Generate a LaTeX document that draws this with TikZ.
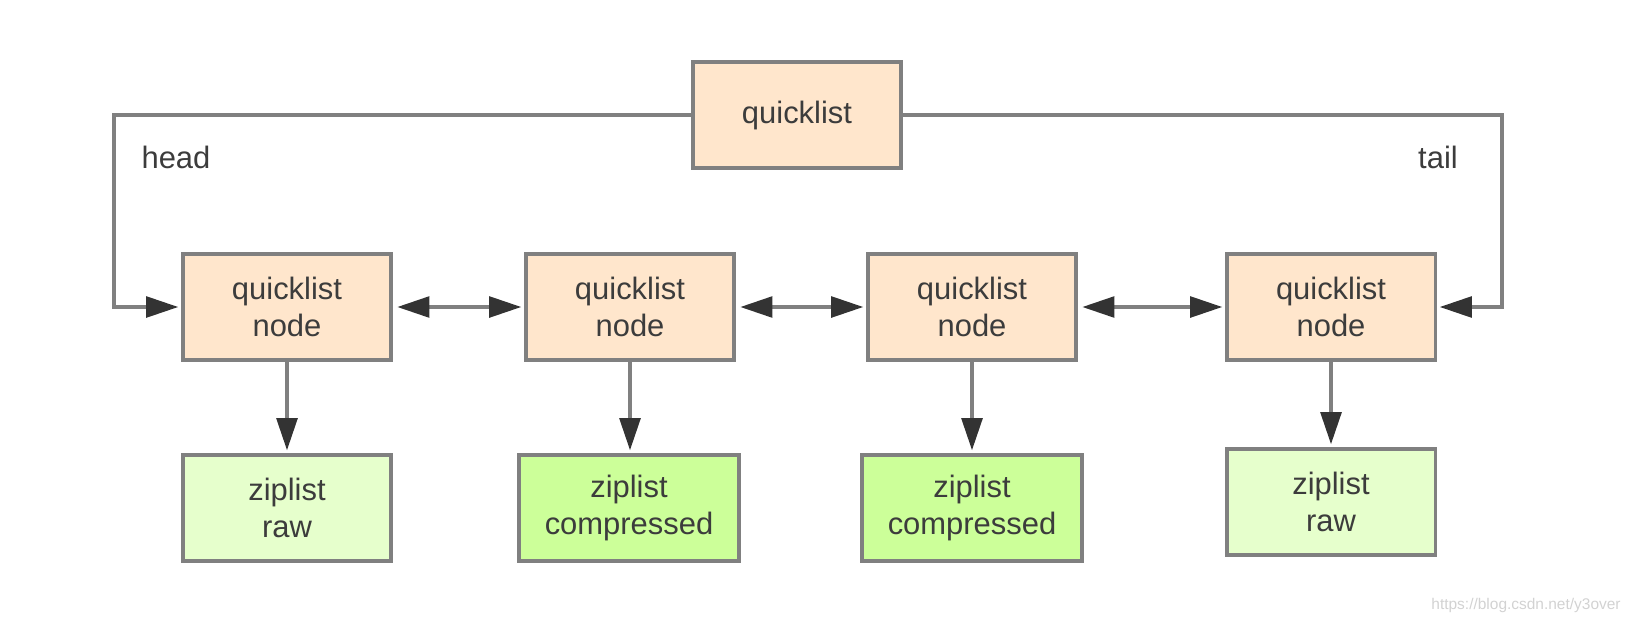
\documentclass[tikz,border=0pt]{standalone}
\usepackage{fontspec}
\setmainfont{Liberation Sans}
\usetikzlibrary{arrows.meta,positioning}
\definecolor{peach}{HTML}{FFE6CC}
\definecolor{rawgreen}{HTML}{E6FFCC}
\definecolor{zipgreen}{HTML}{CCFF99}
\definecolor{edgegray}{HTML}{808080}
\definecolor{tipgray}{HTML}{333333}
\definecolor{textgray}{HTML}{3C3C3C}
\tikzset{
    box/.style = {
        draw = edgegray,
        line width = 2.2pt,
        rectangle,
        align = center,
        text = textgray,
        font = \fontsize{22}{26.6}\selectfont,
        minimum width = 5.2cm,
        minimum height = 2.65cm,
        },
    list node/.style = {
        box,
        fill = peach,
        },
    raw zip/.style = {
        box,
        fill = rawgreen,
        },
    packed zip/.style = {
        box,
        fill = zipgreen,
        minimum width = 5.5cm,
        },
    link/.style = {
        draw = edgegray,
        line width = 2.2pt,
        -{Triangle[length=0.8cm, width=0.52cm, color=tipgray]},
        shorten >= 0.08cm,
        },
    both link/.style = {
        link,
        {Triangle[length=0.8cm, width=0.52cm, color=tipgray]}-{Triangle[length=0.8cm, width=0.52cm, color=tipgray]},
        shorten <= 0.12cm,
        },
    side text/.style = {
        text = textgray,
        font = \fontsize{22}{26.6}\selectfont,
        },
}

\begin{document}
\begin{tikzpicture}[x=0.025cm, y=-0.025cm]
    \useasboundingbox (0,0) rectangle (1628,626);

    \node[list node] (QL) at (797,115) {quicklist};

    \node[list node] (QN1) at (287,307) {quicklist\\node};
    \node[list node] (QN2) at (630,307) {quicklist\\node};
    \node[list node] (QN3) at (972,307) {quicklist\\node};
    \node[list node] (QN4) at (1331,307) {quicklist\\node};

    \node[raw zip] (ZL1) at (287,508) {ziplist\\raw};
    \node[packed zip] (ZL2) at (629,508) {ziplist\\compressed};
    \node[packed zip] (ZL3) at (972,508) {ziplist\\compressed};
    \node[raw zip] (ZL4) at (1331,502) {ziplist\\raw};

    \node[side text] (head) at (176,157) {head};
    \node[side text] (tail) at (1438,157) {tail};

    \coordinate (head corner) at (114,307);
    \coordinate (tail corner) at (1502,307);

    \draw[link] (QL.west) -| (head corner) -- (QN1.west);
    \draw[link] (QL.east) -| (tail corner) -- (QN4.east);

    \draw[both link] (QN1) -- (QN2);
    \draw[both link] (QN2) -- (QN3);
    \draw[both link] (QN3) -- (QN4);

    \draw[link] (QN1.south) -- (QN1.south |- ZL1.north);
    \draw[link] (QN2.south) -- (QN2.south |- ZL2.north);
    \draw[link] (QN3.south) -- (QN3.south |- ZL3.north);
    \draw[link] (QN4.south) -- (QN4.south |- ZL4.north);

    \node[text=gray!35, font=\fontsize{11}{13}\selectfont] (mark) at (1526,605) {https://blog.csdn.net/y3over};
\end{tikzpicture}
\end{document}
